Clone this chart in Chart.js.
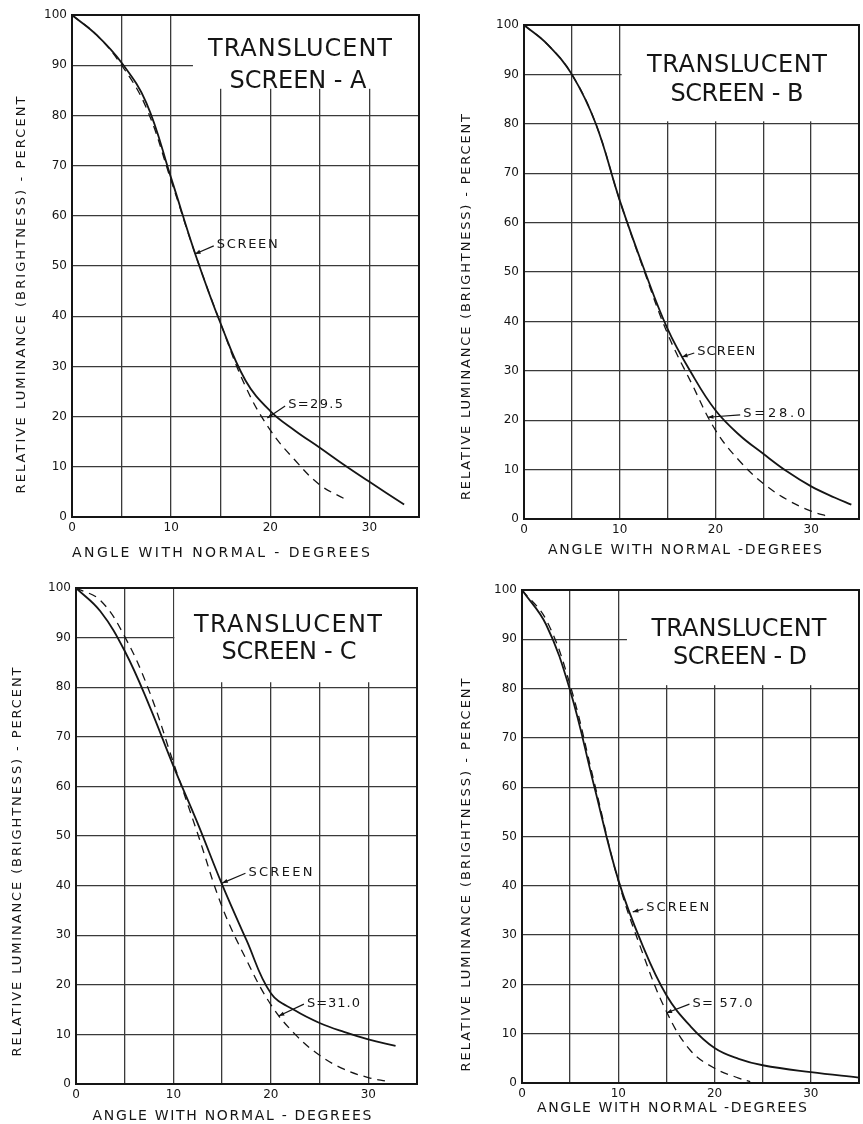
<!DOCTYPE html>
<html>
<head>
<meta charset="utf-8">
<title>Translucent screens - relative luminance</title>
<script src="https://cdn.jsdelivr.net/npm/chart.js@4.4.1/dist/chart.umd.min.js"></script>
<style>
  html, body { margin: 0; padding: 0; background: #fff; }
  #page { position: relative; width: 863px; height: 1124px; overflow: hidden; background: #fff; }
  #page canvas { position: absolute; }
</style>
</head>
<body>
<div id="page">
  <canvas id="chartA" width="431" height="562" style="left:0;top:0"></canvas>
  <canvas id="chartB" width="432" height="562" style="left:431px;top:0"></canvas>
  <canvas id="chartC" width="431" height="562" style="left:0;top:562px"></canvas>
  <canvas id="chartD" width="432" height="562" style="left:431px;top:562px"></canvas>
</div>
<script>
// values (angle in degrees, luminance in percent)
var anglesA = [0, 2.5, 5, 7.5, 10, 12.5, 15, 17.5, 20, 22.5, 25, 27.5, 30, 33.5];
var screenA = [100, 96, 90.5, 82.5, 67.5, 52, 38.5, 27.2, 21.1, 17.2, 13.8, 10.3, 7, 2.5];
var calcAnglesA = [0, 2.5, 5, 7.5, 10, 12.5, 15, 17.5, 20, 22.5, 25, 27.5];
var calcA = [100, 96, 90, 81.5, 67, 52, 38.5, 26, 17.3, 11.3, 6.4, 3.6];

var anglesB = [0, 2.5, 5, 7.5, 10, 12.5, 15, 17.5, 20, 22.5, 25, 27.5, 30, 32.5, 34.2];
var screenB = [100, 96, 90, 80, 64.5, 50.8, 38.5, 29.5, 22, 17, 13.2, 9.6, 6.6, 4.3, 2.9];
var calcAnglesB = [0, 2.5, 5, 7.5, 10, 12.5, 15, 17.5, 20, 22.5, 25, 27.5, 30, 32];
var calcB = [100, 96, 90, 80, 64.5, 50.5, 37.5, 27.5, 18, 11.8, 7.2, 3.9, 1.6, 0.4];

var anglesC = [0, 2.5, 5, 7.5, 10, 12.5, 15, 17.5, 20, 22.5, 25, 27.5, 30, 32.8];
var screenC = [100, 95.3, 87.3, 76.4, 64.1, 52.5, 40.2, 29, 18.3, 14.8, 12.3, 10.5, 9, 7.7];
var calcAnglesC = [0, 2.5, 5, 7.5, 10, 12.5, 15, 17.5, 20, 22.5, 25, 27.5, 30, 32];
var calcC = [100, 97.5, 90.2, 79.3, 64.8, 50.4, 35.7, 25, 16, 10, 5.8, 3, 1.3, 0.5];

var anglesD = [0, 2.5, 5, 7.5, 10, 12.5, 15, 17.5, 20, 22.5, 25, 30, 35];
var screenD = [100, 93, 79.6, 60.2, 41.2, 28, 17.8, 11.5, 7.1, 4.9, 3.6, 2.2, 1.1];
var calcAnglesD = [0, 2.5, 5, 7.5, 10, 12.5, 15, 17.5, 20, 22.5, 23.7];
var calcD = [100, 94, 80.7, 61, 41, 26.5, 14.5, 6.6, 3, 1, 0.3];

var yTicks = [0, 10, 20, 30, 40, 50, 60, 70, 80, 90, 100];
var xTicks = [0, 10, 20, 30];

var INK = '#151515';
var FONT = "'DejaVu Sans', 'Liberation Sans', sans-serif";

// text with letter spacing stretched to a given width, centred on x
function spacedText(ctx, text, x, y, width) {
    ctx.letterSpacing = '0px';
    var w = ctx.measureText(text).width;
    var gap = text.length > 1 ? (width - w) / (text.length - 1) : 0;
    ctx.letterSpacing = gap + 'px';
    ctx.textAlign = 'left';
    ctx.fillText(text, x - width / 2, y);
    ctx.letterSpacing = '0px';
}

var paperPlugin = {
    id: 'paper',
    beforeDatasetsDraw: function (chart, args, opts) {
        var ctx = chart.ctx, a = chart.chartArea;
        var bx = chart.scales.x.getPixelForValue(opts.box[0]);
        var by = chart.scales.y.getPixelForValue(opts.box[1]);
        ctx.save();
        ctx.fillStyle = '#fff';
        ctx.fillRect(bx, a.top - 1, a.right - bx + 1, by - a.top + 1);
        ctx.strokeStyle = INK;
        ctx.lineWidth = 2;
        ctx.strokeRect(a.left, a.top, a.right - a.left, a.bottom - a.top);
        ctx.restore();
    },
    afterDatasetsDraw: function (chart, args, opts) {
        var ctx = chart.ctx;
        var xs = chart.scales.x, ys = chart.scales.y;
        ctx.save();
        ctx.fillStyle = INK;
        ctx.strokeStyle = INK;
        ctx.textBaseline = 'middle';

        // panel title
        ctx.font = '24px ' + FONT;
        opts.title.forEach(function (t) { spacedText(ctx, t.text, t.x, t.y, t.w); });

        // axis titles
        ctx.font = '14px ' + FONT;
        spacedText(ctx, opts.xTitle.text, opts.xTitle.x, opts.xTitle.y, opts.xTitle.w);
        ctx.font = '13px ' + FONT;
        ctx.save();
        ctx.translate(opts.yTitle.x, opts.yTitle.y);
        ctx.rotate(-Math.PI / 2);
        spacedText(ctx, opts.yTitle.text, 0, 0, opts.yTitle.w);
        ctx.restore();

        // curve call-outs with leader and small arrow
        ctx.font = '13px ' + FONT;
        opts.notes.forEach(function (n) {
            var tx = xs.getPixelForValue(n.at[0]), ty = ys.getPixelForValue(n.at[1]);
            var px = xs.getPixelForValue(n.tip[0]), py = ys.getPixelForValue(n.tip[1]);
            spacedText(ctx, n.text, tx + n.w / 2, ty, n.w);
            var sx = tx - 3, sy = ty + 1;
            ctx.lineWidth = 1.2;
            ctx.beginPath();
            ctx.moveTo(sx, sy);
            ctx.lineTo(px, py);
            ctx.stroke();
            var ang = Math.atan2(py - sy, px - sx);
            ctx.beginPath();
            ctx.moveTo(px, py);
            ctx.lineTo(px - 6 * Math.cos(ang - 0.35), py - 6 * Math.sin(ang - 0.35));
            ctx.lineTo(px - 6 * Math.cos(ang + 0.35), py - 6 * Math.sin(ang + 0.35));
            ctx.closePath();
            ctx.fill();
        });
        ctx.restore();
    }
};

function toPoints(xs, ys) {
    return xs.map(function (x, i) { return { x: x, y: ys[i] }; });
}

function makePanel(id, angles, screen, calcAngles, calc, layout, text) {
    return new Chart(document.getElementById(id), {
        type: 'scatter',
        data: {
            datasets: [{
                label: 'SCREEN',
                data: toPoints(angles, screen),
                showLine: true,
                borderColor: INK,
                borderWidth: 1.8,
                pointRadius: 0,
                tension: 0.4
            }, {
                label: text.s,
                data: toPoints(calcAngles, calc),
                showLine: true,
                borderColor: INK,
                borderWidth: 1.3,
                borderDash: [8, 6],
                pointRadius: 0,
                tension: 0.4
            }]
        },
        options: {
            responsive: false,
            animation: false,
            layout: { padding: { left: 0, top: layout.top, right: layout.right, bottom: 0 } },
            plugins: {
                legend: { display: false },
                tooltip: { enabled: false },
                paper: {
                    box: layout.box,
                    title: text.title,
                    xTitle: text.xTitle,
                    yTitle: text.yTitle,
                    notes: text.notes
                }
            },
            scales: {
                x: {
                    type: 'linear',
                    min: 0, max: 35,
                    afterFit: function (s) { s.height = layout.xh; },
                    grid: { color: '#3a3a3a', lineWidth: 1.3, drawTicks: false },
                    border: { display: false },
                    ticks: {
                        stepSize: 5,
                        padding: 4,
                        color: INK,
                        font: { family: FONT, size: 12 },
                        maxRotation: 0,
                        autoSkip: false,
                        callback: function (v) { return xTicks.indexOf(v) >= 0 ? String(v) : ''; }
                    }
                },
                y: {
                    min: 0, max: 100,
                    afterFit: function (s) { s.width = layout.left; },
                    grid: { color: '#3a3a3a', lineWidth: 1.3, drawTicks: false },
                    border: { display: false },
                    ticks: {
                        stepSize: 10,
                        padding: 5,
                        color: INK,
                        font: { family: FONT, size: 12 },
                        autoSkip: false,
                        callback: function (v) { return yTicks.indexOf(v) >= 0 ? String(v) : ''; }
                    }
                }
            }
        },
        plugins: [paperPlugin]
    });
}

var yName = 'RELATIVE LUMINANCE (BRIGHTNESS) - PERCENT';

makePanel('chartA', anglesA, screenA, calcAnglesA, calcA,
    { left: 72, top: 15, right: 12, xh: 45, box: [12.2, 85.3] },
    {
        s: 'S=29.5',
        title: [{ text: 'TRANSLUCENT', x: 300, y: 50, w: 184 }, { text: 'SCREEN - A', x: 298, y: 82, w: 137 }],
        xTitle: { text: 'ANGLE WITH NORMAL - DEGREES', x: 221, y: 553, w: 298 },
        yTitle: { text: yName, x: 22, y: 295, w: 397 },
        notes: [
            { text: 'SCREEN', at: [14.6, 54.2], tip: [12.4, 52.4], w: 61 },
            { text: 'S=29.5', at: [21.8, 22.3], tip: [19.7, 19.7], w: 55 }
        ]
    });

makePanel('chartB', anglesB, screenB, calcAnglesB, calcB,
    { left: 93, top: 25, right: 1, xh: 43, box: [10.2, 80.5] },
    {
        s: 'S=28.0',
        title: [{ text: 'TRANSLUCENT', x: 306, y: 66, w: 180 }, { text: 'SCREEN - B', x: 306, y: 95, w: 133 }],
        xTitle: { text: 'ANGLE WITH NORMAL -DEGREES', x: 254, y: 550, w: 274 },
        yTitle: { text: yName, x: 36, y: 307, w: 386 },
        notes: [
            { text: 'SCREEN', at: [18.1, 33.8], tip: [16.5, 32.8], w: 58 },
            { text: 'S=28.0', at: [22.9, 21.3], tip: [19.2, 20.6], w: 62 }
        ]
    });

makePanel('chartC', anglesC, screenC, calcAnglesC, calcC,
    { left: 76, top: 26, right: 14, xh: 40, box: [10.1, 81] },
    {
        s: 'S=31.0',
        title: [{ text: 'TRANSLUCENT', x: 288, y: 64, w: 188 }, { text: 'SCREEN - C', x: 289, y: 91, w: 135 }],
        xTitle: { text: 'ANGLE WITH NORMAL - DEGREES', x: 232, y: 554, w: 279 },
        yTitle: { text: yName, x: 18, y: 300, w: 389 },
        notes: [
            { text: 'SCREEN', at: [17.7, 42.7], tip: [15.0, 40.5], w: 64 },
            { text: 'S=31.0', at: [23.7, 16.3], tip: [20.8, 13.7], w: 53 }
        ]
    });

makePanel('chartD', anglesD, screenD, calcAnglesD, calcD,
    { left: 91, top: 28, right: 3, xh: 41, box: [10.9, 80.7] },
    {
        s: 'S= 57.0',
        title: [{ text: 'TRANSLUCENT', x: 308, y: 68, w: 175 }, { text: 'SCREEN - D', x: 309, y: 96, w: 134 }],
        xTitle: { text: 'ANGLE WITH NORMAL -DEGREES', x: 241, y: 546, w: 270 },
        yTitle: { text: yName, x: 36, y: 313, w: 393 },
        notes: [
            { text: 'SCREEN', at: [12.9, 35.5], tip: [11.5, 34.7], w: 63 },
            { text: 'S= 57.0', at: [17.7, 16.2], tip: [15.0, 14.2], w: 60 }
        ]
    });
</script>
</body>
</html>
